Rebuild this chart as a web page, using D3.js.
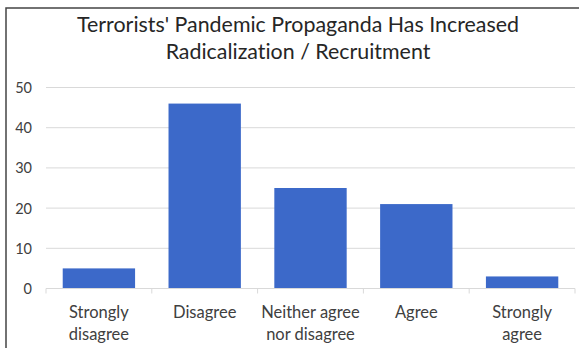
<!DOCTYPE html>
<html>
<head>
<meta charset="utf-8">
<script src="https://cdn.jsdelivr.net/npm/d3@7"></script>
<style>
  html, body { margin: 0; padding: 0; background: #fff; }
  svg { display: block; }
  text { font-variant-ligatures: none; font-feature-settings: "liga" 0, "clig" 0; }
</style>
</head>
<body>
<svg id="chart" width="579" height="348"></svg>
<script>
// Survey responses
const categories = ["Strongly disagree", "Disagree", "Neither agree nor disagree", "Agree", "Strongly agree"];
const categoryLines = [["Strongly", "disagree"], ["Disagree"], ["Neither agree", "nor disagree"], ["Agree"], ["Strongly", "agree"]];
const values = [5, 46, 25, 21, 3];
const yTicks = [0, 10, 20, 30, 40, 50];
const titleLines = ["Terrorists' Pandemic Propaganda Has Increased", "Radicalization / Recruitment"];

const W = 579, H = 348;
const FONT = "Lato, 'Open Sans', sans-serif";
const svg = d3.select("#chart");

// Chart frame
svg.append("rect")
  .attr("x", 6).attr("y", 8).attr("width", W + 10).attr("height", H + 10)
  .attr("fill", "#fff").attr("stroke", "#444").attr("stroke-width", 1.5);

const x = d3.scaleBand().domain(categories).range([46, 575]).paddingInner(0.316).paddingOuter(0.158);
const y = d3.scaleLinear().domain([0, 50]).range([288.5, 87.5]);

// Title
svg.append("text")
  .attr("text-anchor", "middle")
  .attr("font-family", FONT).attr("font-size", 21.4).attr("fill", "#262626")
  .selectAll("tspan").data(titleLines).join("tspan")
  .attr("x", 298).attr("y", (d, i) => 32 + i * 27)
  .text(d => d);

// Gridlines
svg.append("g").selectAll("line").data(yTicks.filter(t => t > 0)).join("line")
  .attr("x1", 46).attr("x2", 575)
  .attr("y1", d => y(d)).attr("y2", d => y(d))
  .attr("stroke", "#d9d9d9").attr("stroke-width", 1);

// Y axis labels
const yAxis = d3.axisLeft(y).tickValues(yTicks).tickSize(0).tickPadding(0);
const gy = svg.append("g").attr("transform", "translate(32,0)").call(yAxis);
gy.select(".domain").remove();
gy.selectAll("text")
  .attr("font-family", FONT).attr("font-size", 14.5).attr("fill", "#404040")
  .attr("dy", "0.35em");

// Bars
svg.append("g").selectAll("rect").data(values).join("rect")
  .attr("x", (d, i) => x(categories[i]))
  .attr("width", x.bandwidth())
  .attr("y", d => y(d))
  .attr("height", d => y(0) - y(d))
  .attr("fill", "#3c69c9");

// X axis with category boundary ticks
const boundaries = d3.range(categories.length + 1).map(i => 46 + i * (575 - 46) / categories.length);
const gx = svg.append("g");
gx.append("line")
  .attr("x1", 46).attr("x2", 575).attr("y1", y(0)).attr("y2", y(0))
  .attr("stroke", "#d9d9d9").attr("stroke-width", 1);
gx.selectAll("line.tick").data(boundaries).join("line").attr("class", "tick")
  .attr("x1", d => d).attr("x2", d => d)
  .attr("y1", y(0)).attr("y2", y(0) + 5)
  .attr("stroke", "#d9d9d9").attr("stroke-width", 1);

// Category labels
gx.selectAll("text.cat").data(categories).join("text").attr("class", "cat")
  .attr("text-anchor", "middle")
  .attr("font-family", FONT).attr("font-size", 16.5).attr("fill", "#404040")
  .each(function(d, i) {
    const cx = x(d) + x.bandwidth() / 2;
    d3.select(this).selectAll("tspan").data(categoryLines[i]).join("tspan")
      .attr("x", cx).attr("y", (t, j) => 318 + j * 22)
      .text(t => t);
  });
</script>
</body>
</html>
